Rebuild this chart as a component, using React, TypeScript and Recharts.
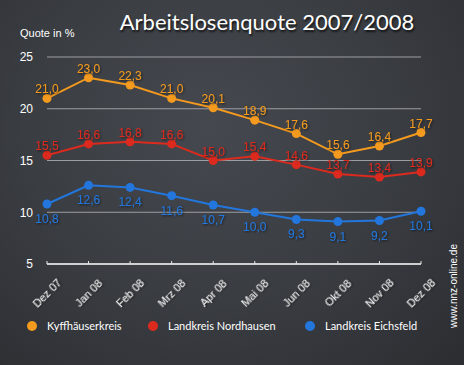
import { LineChart, Line, XAxis, YAxis, CartesianGrid, LabelList } from 'recharts';

const months = ['Dez 07', 'Jan 08', 'Feb 08', 'Mrz 08', 'Apr 08', 'Mai 08', 'Jun 08', 'Okt 08', 'Nov 08', 'Dez 08'];
const kyffhaeuser = [21.0, 23.0, 22.3, 21.0, 20.1, 18.9, 17.6, 15.6, 16.4, 17.7];
const nordhausen = [15.5, 16.6, 16.8, 16.6, 15.0, 15.4, 14.6, 13.7, 13.4, 13.9];
const eichsfeld = [10.8, 12.6, 12.4, 11.6, 10.7, 10.0, 9.3, 9.1, 9.2, 10.1];
const yTicks = [5, 10, 15, 20, 25];

const series = [
    { key: 'kyff', name: 'Kyffhäuserkreis', color: '#f39a1f', below: false },
    { key: 'nord', name: 'Landkreis Nordhausen', color: '#dc2a1e', below: false },
    { key: 'eich', name: 'Landkreis Eichsfeld', color: '#2276dc', below: true },
];

const data = months.map((m, i) => ({
    month: m,
    kyff: kyffhaeuser[i],
    nord: nordhausen[i],
    eich: eichsfeld[i],
}));

const fmt = (v: number) => v.toFixed(1).replace('.', ',');

function XTick(props: any) {
    const { x, y, payload } = props;
    const cy = y + 29;
    return (
        <g>
            <line x1={x} y1={y} x2={x} y2={y - 3} stroke="#e8e8e8" strokeWidth={1} />
            <text
                x={x}
                y={cy}
                textAnchor="middle"
                dominantBaseline="central"
                fill="#f4f4f4"
                fontSize={11}
                fontFamily="'Liberation Sans', Arial, sans-serif"
                transform={`rotate(-45, ${x}, ${cy})`}
                filter="url(#shadow)"
            >
                {payload.value}
            </text>
        </g>
    );
}

function makeLabel(color: string, below: boolean) {
    return (props: any) => {
        const { x, y, value } = props;
        return (
            <text
                x={x}
                y={below ? y + 15 : y - 9}
                textAnchor="middle"
                dominantBaseline="central"
                fill={color}
                fontSize={12}
                fontFamily="'Liberation Sans', Arial, sans-serif"
                filter="url(#shadow)"
            >
                {fmt(value)}
            </text>
        );
    };
}

export default function App() {
    return (
        <div
            style={{
                position: 'absolute',
                left: 0,
                top: 0,
                width: 464,
                height: 365,
                overflow: 'hidden',
                background: 'radial-gradient(ellipse at 45% 35%, #45484e 0%, #3a3d42 50%, #2b2d31 100%)',
                fontFamily: "'Liberation Sans', Arial, sans-serif",
            }}
        >
            <div
                style={{
                    position: 'absolute',
                    left: 0,
                    width: 464,
                    top: 8,
                    paddingLeft: 70,
                    boxSizing: 'border-box',
                    textAlign: 'center',
                    color: '#ffffff',
                    fontFamily: 'Lato, sans-serif',
                    fontSize: 22,
                    textShadow: '1px 2px 2px rgba(0,0,0,0.7)',
                }}
            >
                Arbeitslosenquote 2007/2008
            </div>
            <div style={{ position: 'absolute', left: 20, top: 27, color: '#ffffff', fontSize: 11 }}>Quote in %</div>
            <div
                style={{
                    position: 'absolute',
                    left: 453,
                    top: 286,
                    transform: 'translate(-50%, -50%) rotate(-90deg)',
                    color: '#ffffff',
                    fontSize: 10,
                    whiteSpace: 'nowrap',
                }}
            >
                www.nnz-online.de
            </div>
            <LineChart width={464} height={365} data={data} margin={{ top: 57, right: 43, left: 0, bottom: 71 }}>
                <defs>
                    <filter id="shadow" x="-20%" y="-20%" width="140%" height="140%">
                        <feDropShadow dx="1" dy="1" stdDeviation="0.8" floodColor="#000" floodOpacity="0.6" />
                    </filter>
                </defs>
                <CartesianGrid horizontal vertical={false} stroke="#9c9ea2" strokeWidth={1} />
                <XAxis
                    dataKey="month"
                    interval={0}
                    height={30}
                    axisLine={{ stroke: '#f0f0f0', strokeWidth: 1.5 }}
                    tickLine={false}
                    tickSize={0}
                    tickMargin={0}
                    tick={<XTick />}
                />
                <YAxis
                    domain={[5, 25]}
                    ticks={yTicks}
                    width={47}
                    axisLine={false}
                    tickLine={false}
                    tickMargin={8}
                    tick={{ fill: '#ffffff', fontSize: 12 }}
                />
                {series.map((s) => (
                    <Line
                        key={s.key}
                        dataKey={s.key}
                        name={s.name}
                        stroke={s.color}
                        strokeWidth={2}
                        dot={{ r: 4.5, fill: s.color, stroke: s.color, strokeWidth: 0 }}
                        isAnimationActive={false}
                    >
                        <LabelList dataKey={s.key} content={makeLabel(s.color, s.below)} />
                    </Line>
                ))}
            </LineChart>
            {series.map((s, i) => (
                <div
                    key={s.key}
                    style={{
                        position: 'absolute',
                        left: [27, 148, 305][i],
                        top: 319,
                        display: 'flex',
                        alignItems: 'center',
                        color: '#ffffff',
                        fontFamily: 'Lato, sans-serif',
                        fontSize: 11,
                        whiteSpace: 'nowrap',
                    }}
                >
                    <span
                        style={{
                            display: 'inline-block',
                            width: 10,
                            height: 10,
                            borderRadius: 5,
                            background: s.color,
                            marginRight: 10,
                        }}
                    />
                    {s.name}
                </div>
            ))}
        </div>
    );
}
